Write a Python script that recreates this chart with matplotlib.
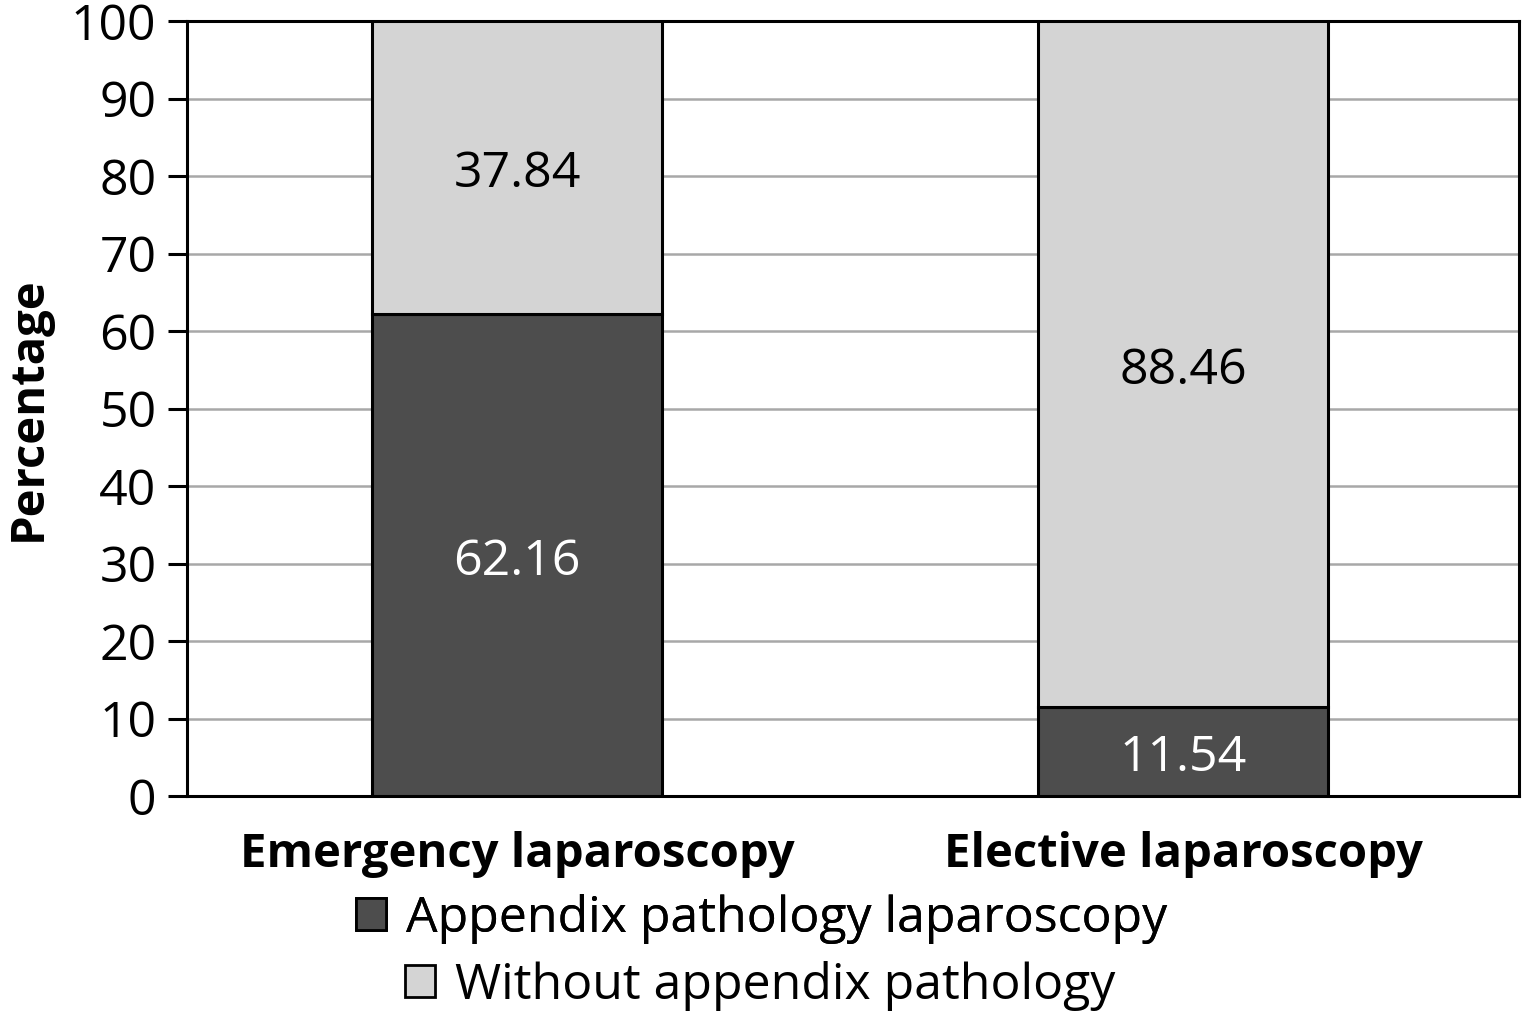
import matplotlib
matplotlib.use("Agg")
import matplotlib.pyplot as plt
from matplotlib.patches import Patch

categories = ["Emergency laparoscopy", "Elective laparoscopy"]
with_pathology = [62.16, 11.54]
without_pathology = [37.84, 88.46]
series_names = ["Appendix pathology laparoscopy", "Without appendix pathology"]
yticks = [0, 10, 20, 30, 40, 50, 60, 70, 80, 90, 100]

dark = "#4d4d4d"
light = "#d4d4d4"

plt.rcParams["font.family"] = ["Open Sans", "DejaVu Sans"]

fig = plt.figure(figsize=(15.23, 10.13), dpi=100)
ax = fig.add_axes((0.1228, 0.2142, 0.8746, 0.765))

x = list(range(len(categories)))
w = 0.435
ax.bar(x, with_pathology, w, color=dark, edgecolor="black", linewidth=2.2, zorder=3)
ax.bar(x, without_pathology, w, bottom=with_pathology, color=light,
       edgecolor="black", linewidth=2.2, zorder=3)

# value labels sit a touch below the segment middle
for i in x:
    ax.text(i, with_pathology[i] / 2 - 0.9, f"{with_pathology[i]:.2f}",
            ha="center", va="center", fontsize=36, color="white", zorder=4)
    ax.text(i, with_pathology[i] + without_pathology[i] / 2 - 0.9,
            f"{without_pathology[i]:.2f}", ha="center", va="center",
            fontsize=36, color="black", zorder=4)

ax.set_xlim(-0.4955, 1.5045)
ax.set_ylim(0, 100)
ax.set_yticks(yticks)
ax.set_yticklabels([str(t) for t in yticks], fontsize=36)
ax.set_xticks(x)
ax.set_xticklabels(categories, fontsize=34, fontweight="bold")
ax.tick_params(axis="x", length=0, pad=25)
ax.tick_params(axis="y", length=14, width=2.2, pad=8, direction="out")
ax.yaxis.grid(True, color="#a8a8a8", linewidth=1.8, zorder=0)
ax.set_axisbelow(True)
for s in ax.spines.values():
    s.set_linewidth(2.2)
ax.set_ylabel("Percentage", fontsize=34, fontweight="bold", labelpad=14)

h1 = Patch(facecolor=dark, edgecolor="black", linewidth=2)
h2 = Patch(facecolor=light, edgecolor="black", linewidth=2)
leg1 = fig.legend([h1], [series_names[0]], loc="center left",
                  bbox_to_anchor=(0.234, 0.093), frameon=False, fontsize=36,
                  handlelength=0.6, handleheight=0.6, handletextpad=0.4,
                  borderaxespad=0, borderpad=0)
leg2 = fig.legend([h2], [series_names[1]], loc="center left",
                  bbox_to_anchor=(0.266, 0.027), frameon=False, fontsize=36,
                  handlelength=0.6, handleheight=0.6, handletextpad=0.4,
                  borderaxespad=0, borderpad=0)
fig.add_artist(leg1)

fig.savefig("out.png", dpi=100)
